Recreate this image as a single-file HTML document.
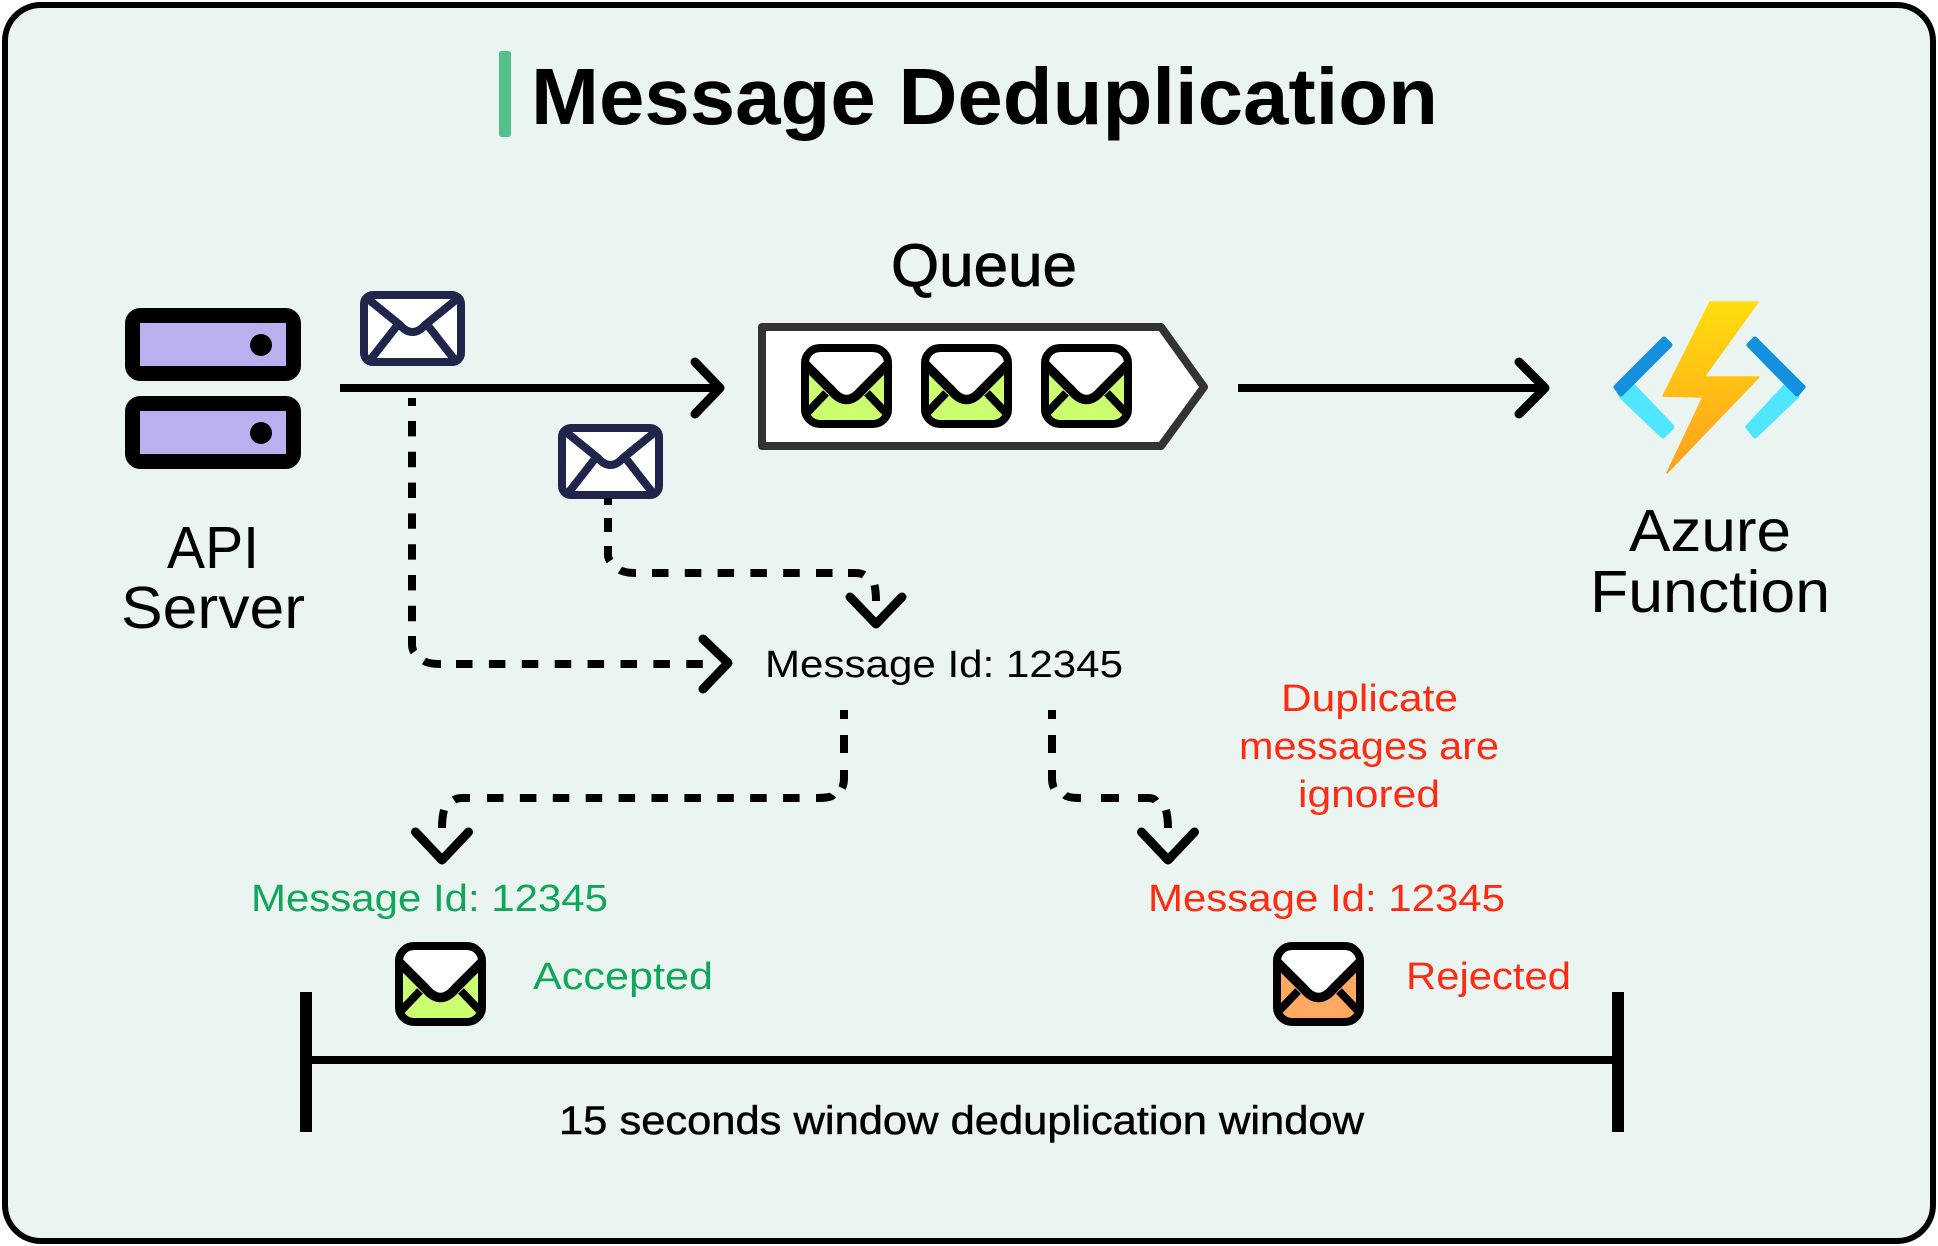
<!DOCTYPE html>
<html><head><meta charset="utf-8"><style>
html,body{margin:0;padding:0;background:#fff}
svg{display:block}
text{font-family:"Liberation Sans",sans-serif}
</style></head><body>
<svg width="1938" height="1246" viewBox="0 0 1938 1246" xmlns="http://www.w3.org/2000/svg">
<defs>
<linearGradient id="bolt" x1="0" y1="0" x2="0" y2="1"><stop offset="0" stop-color="#FFDD0E"/><stop offset="1" stop-color="#FF9F1C"/></linearGradient>
<g id="flap">
<path d="M4,21 L31,47 Q38,55 45.5,55 Q53,55 60,47 L87,21 V4 H4Z" fill="#fff"/>
<path d="M3,19 L31,47 Q38,55.500 45.5,55.500 Q53,55.500 60,47 L88,19" fill="none" stroke="#000" stroke-width="9.500"/>
<path d="M3,72 L25,49 M88,72 L66,49" fill="none" stroke="#000" stroke-width="8"/>
<path d="M8,17 Q9,8 20,8 L8,8Z M83,17 Q82,8 71,8 L83,8Z" fill="#000"/>
<rect x="4" y="4" width="83" height="76" rx="15" fill="none" stroke="#000" stroke-width="8"/>
</g>
<g id="envg"><rect x="4" y="4" width="83" height="76" rx="15" fill="#CCFF70"/><use href="#flap"/></g>
<g id="envo"><rect x="4" y="4" width="83" height="76" rx="15" fill="#FFA862"/><use href="#flap"/></g>
<g id="envn">
<rect x="4" y="4" width="97" height="67" rx="9" fill="#fff" stroke="#20264B" stroke-width="8"/>
<path d="M8,8 L40,34 Q46,41 52.500,41 Q59,41 65,34 L97,8 M11,68 L36,36 M94,68 L69,36" fill="none" stroke="#20264B" stroke-width="8"/>
</g>
</defs>

<rect x="5" y="5" width="1928" height="1236" rx="36" fill="#EAF4F0" stroke="#000" stroke-width="6"/>
<rect x="499" y="51" width="12" height="86" rx="2.5" fill="#52C08A"/>
<text x="531" y="124" font-size="80" font-weight="700" textLength="907" lengthAdjust="spacingAndGlyphs" fill="#000">Message Deduplication</text>

<!-- API server -->
<g fill="#B9B0F0" stroke="#000" stroke-width="15" stroke-linejoin="round">
<rect x="132.500" y="315.500" width="161" height="58" rx="8"/>
<rect x="132.500" y="403.500" width="161" height="58" rx="8"/>
</g>
<circle cx="261" cy="345" r="11"/><circle cx="261" cy="433" r="11"/>
<text x="167" y="568" font-size="59" textLength="92" lengthAdjust="spacingAndGlyphs">API</text>
<text x="121" y="628" font-size="59" textLength="184" lengthAdjust="spacingAndGlyphs">Server</text>

<use href="#envn" x="360" y="291"/>
<use href="#envn" x="558" y="424"/>

<!-- solid arrows -->
<g fill="none" stroke="#000" stroke-width="8">
<path d="M340,388 H718"/>
<path d="M1238,388 H1543"/>
</g>
<g fill="none" stroke="#000" stroke-width="9" stroke-linecap="round" stroke-linejoin="round">
<path d="M695,362 L720,388 L695,414"/>
<path d="M1519,362 L1545,388 L1519,414"/>
<path d="M703,639 L728,663 L703,689"/>
<path d="M850,597 L876,624 L902,597"/>
<path d="M415.500,832 L442,860 L468.500,832"/>
<path d="M1141.500,832 L1168,860 L1194.500,832"/>
</g>

<!-- dashed connectors -->
<g fill="none" stroke="#000" stroke-width="8">
<path d="M412,398 V406"/>
<path d="M412,421 V622" stroke-dasharray="15.400 15.400"/>
<path d="M412,636 V644 Q412,649 414,652"/>
<path d="M424,661 Q429,664 441,664"/>
<path d="M456,664 H703" stroke-dasharray="16.500 16.400"/>

<path d="M608,498 V505 M608,518 V532 M608,546 V555 Q608,558 610,561"/>
<path d="M620,570 Q625,573 636,573"/>
<path d="M652,573 H848" stroke-dasharray="16.500 16.300"/>
<path d="M848,573 H855 Q861,573 864,575"/>
<path d="M874.500,585 Q876,592 876,601"/>

<path d="M844,710 V719 M844,735 V753 M844,770 V778 Q844,784 842,788"/>
<path d="M833,795 Q831,798 816,798"/>
<path d="M487,798 H800" stroke-dasharray="16.500 16.400"/>
<path d="M470,798 H463 Q457,798 454,800"/>
<path d="M444,810 Q442,818 442,828"/>

<path d="M1052,710 V719 M1052,735 V753 M1052,770 V778 Q1052,784 1054,788"/>
<path d="M1065,795 Q1068,798 1081,798"/>
<path d="M1101,798 H1119"/>
<path d="M1138,798 H1148 Q1154,798 1156,801"/>
<path d="M1166,810 Q1168,818 1168,828"/>
</g>

<!-- Queue -->
<text x="891" y="286" font-size="60" textLength="186" lengthAdjust="spacingAndGlyphs" stroke="#000" stroke-width="0.8">Queue</text>
<path d="M762,327 H1161 L1204,387 L1161,446 H762Z" fill="#fff" stroke="#333" stroke-width="8" stroke-linejoin="round"/>
<use href="#envg" x="801" y="344"/>
<use href="#envg" x="921" y="344"/>
<use href="#envg" x="1041" y="344"/>

<!-- Azure function -->
<g stroke-width="5" stroke-linejoin="round">
<path d="M1621,396 L1634,387 L1672,427 L1663,436Z" fill="#50E6FF" stroke="#50E6FF"/>
<path d="M1664,339 L1670,345 L1621,394 L1616,387Z" fill="#1490DF" stroke="#1490DF"/>
<path d="M1797,396 L1785,387 L1748,427 L1755,436Z" fill="#50E6FF" stroke="#50E6FF"/>
<path d="M1755,339 L1749,345 L1797,394 L1803,387Z" fill="#1490DF" stroke="#1490DF"/>
</g>
<path d="M1710,302 H1758 L1704,377 H1759 L1667,473 L1703,397 L1663,396Z" fill="url(#bolt)" stroke="url(#bolt)" stroke-width="1.500" stroke-linejoin="round"/>
<text x="1629" y="551" font-size="59" textLength="162" lengthAdjust="spacingAndGlyphs">Azure</text>
<text x="1590" y="612" font-size="59" textLength="240" lengthAdjust="spacingAndGlyphs">Function</text>

<!-- labels -->
<text x="765" y="677" font-size="38" textLength="358" lengthAdjust="spacingAndGlyphs">Message Id: 12345</text>
<g fill="#FF2A12" font-size="38">
<text x="1281" y="711" textLength="177" lengthAdjust="spacingAndGlyphs">Duplicate</text>
<text x="1239" y="759" textLength="260" lengthAdjust="spacingAndGlyphs">messages are</text>
<text x="1298" y="807" textLength="142" lengthAdjust="spacingAndGlyphs">ignored</text>
<text x="1148" y="911" textLength="357" lengthAdjust="spacingAndGlyphs">Message Id: 12345</text>
<text x="1406" y="989" textLength="165" lengthAdjust="spacingAndGlyphs">Rejected</text>
</g>
<g fill="#12A65A" font-size="38">
<text x="251" y="911" textLength="357" lengthAdjust="spacingAndGlyphs">Message Id: 12345</text>
<text x="533" y="989" textLength="180" lengthAdjust="spacingAndGlyphs">Accepted</text>
</g>

<use href="#envg" x="395" y="942"/>
<use href="#envo" x="1273" y="942"/>

<!-- window bar -->
<g fill="none" stroke="#000">
<path d="M306,1060 H1618" stroke-width="8"/>
<path d="M306,992 V1132 M1618,992 V1132" stroke-width="12"/>
</g>
<text x="559" y="1134" font-size="40" textLength="805" lengthAdjust="spacingAndGlyphs" stroke="#000" stroke-width="0.5">15 seconds window deduplication window</text>
</svg>
</body></html>
